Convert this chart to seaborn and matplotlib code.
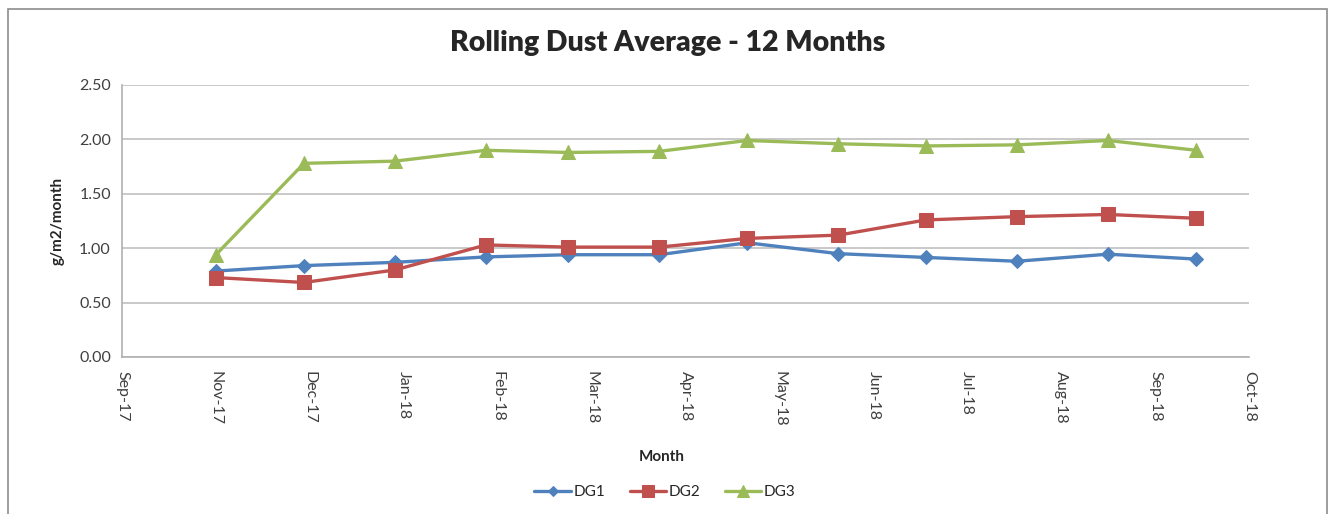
import matplotlib
matplotlib.use("Agg")
import matplotlib.pyplot as plt
import matplotlib.dates as mdates
from matplotlib.patches import Rectangle
import seaborn as sns
import pandas as pd
import numpy as np

# data
months = ["2017-11-01", "2017-12-01", "2018-01-01", "2018-02-01", "2018-03-01", "2018-04-01",
          "2018-05-01", "2018-06-01", "2018-07-01", "2018-08-01", "2018-09-01", "2018-10-01"]
dg1 = [0.79, 0.84, 0.87, 0.92, 0.94, 0.94, 1.05, 0.95, 0.915, 0.88, 0.945, 0.90]
dg2 = [0.73, 0.685, 0.80, 1.03, 1.01, 1.01, 1.09, 1.12, 1.26, 1.29, 1.31, 1.275]
dg3 = [0.94, 1.78, 1.80, 1.90, 1.88, 1.89, 1.99, 1.96, 1.94, 1.95, 1.99, 1.90]

series_names = ["DG1", "DG2", "DG3"]
colors = {"DG1": "#4F81BD", "DG2": "#C0504D", "DG3": "#9BBB59"}
markers = {"DG1": "D", "DG2": "s", "DG3": "^"}
msizes = {"DG1": 7, "DG2": 10, "DG3": 10}

df = pd.DataFrame({"Month": pd.to_datetime(months), "DG1": dg1, "DG2": dg2, "DG3": dg3})
long_df = df.melt(id_vars="Month", var_name="Series", value_name="Value")

sns.set_style("white")
plt.rcParams["font.family"] = ["Lato", "DejaVu Sans"]

fig = plt.figure(figsize=(13.3, 5.14), dpi=100)
ax = fig.add_axes([122 / 1330, 1 - 357 / 514, (1249 - 122) / 1330, (357 - 85) / 514])

# outer chart border
fig.patches.append(Rectangle((8 / 1330, -0.05), (1327 - 8) / 1330, 1.05 - 9 / 514,
                             transform=fig.transFigure, fill=False,
                             edgecolor="#8c8c8c", linewidth=1.2))

for name in series_names:
    sub = long_df[long_df["Series"] == name]
    sns.lineplot(data=sub, x="Month", y="Value", ax=ax, color=colors[name],
                 marker=markers[name], markersize=msizes[name], linewidth=2.4,
                 markeredgecolor=colors[name], label=name)

# excel style date axis: 32 day major unit
start = pd.Timestamp("2017-09-30")
end = pd.Timestamp("2018-10-19")
ticks = pd.date_range(start, end, freq="32D")
ax.set_xlim(start, end)
ax.set_xticks(ticks)
ax.xaxis.set_major_formatter(mdates.DateFormatter("%b-%y"))
plt.setp(ax.get_xticklabels(), rotation=-90, ha="center", va="top")

ax.set_ylim(0, 2.5)
ax.set_yticks(np.arange(0, 2.51, 0.5))
ax.set_yticklabels([f"{v:.2f}" for v in np.arange(0, 2.51, 0.5)])
ax.tick_params(axis="both", labelsize=11.5, colors="#404040", length=0, pad=8)
ax.tick_params(axis="x", pad=10)

ax.grid(axis="y", color="#c0c0c0", linewidth=1.2)
ax.grid(axis="x", visible=False)
for side in ["top", "right"]:
    ax.spines[side].set_visible(False)
for side in ["left", "bottom"]:
    ax.spines[side].set_color("#b0b0b0")
    ax.spines[side].set_linewidth(1.2)

ax.set_ylabel("g/m2/month", fontsize=11, fontweight="bold", labelpad=10)
ax.set_xlabel("")
fig.text(662 / 1330, 1 - 457 / 514, "Month", fontsize=11, fontweight="bold",
         ha="center", va="center")
fig.text(668 / 1330, 1 - 43 / 514, "Rolling Dust Average - 12 Months", fontsize=20.5,
         fontweight="heavy", ha="center", va="center")

ax.legend(loc="center", bbox_to_anchor=(665 / 1330, 1 - 492 / 514),
          bbox_transform=fig.transFigure, ncol=3, frameon=False, fontsize=11,
          handlelength=2.4, columnspacing=1.6, handletextpad=0.15, markerscale=0.8)

fig.savefig("out.png", dpi=100)
